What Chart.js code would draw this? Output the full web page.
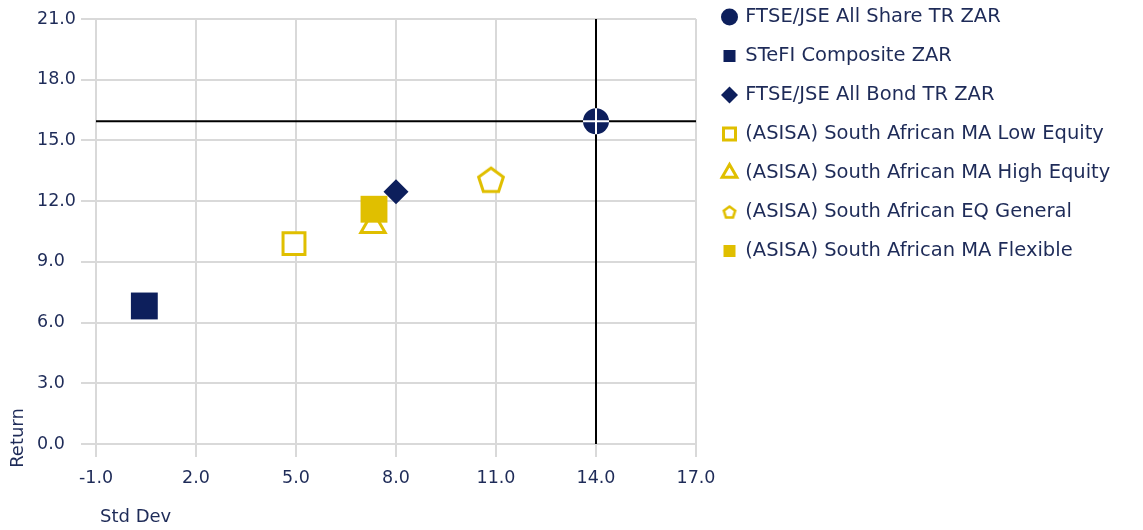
<!DOCTYPE html>
<html>
<head>
<meta charset="utf-8">
<script src="https://cdn.jsdelivr.net/npm/chart.js@4.4.1/dist/chart.umd.min.js"></script>
<style>
  html, body { margin: 0; padding: 0; background: #fff; }
  #wrap { position: relative; width: 1143px; height: 530px; }
</style>
</head>
<body>
<div id="wrap"><canvas id="riskChart"></canvas></div>
<script>
// series (std dev vs return)
const seriesNames = [
    'FTSE/JSE All Share TR ZAR',
    'STeFI Composite ZAR',
    'FTSE/JSE All Bond TR ZAR',
    '(ASISA) South African MA Low Equity',
    '(ASISA) South African MA High Equity',
    '(ASISA) South African EQ General',
    '(ASISA) South African MA Flexible'
];
const stdDev = [14.0, 0.45, 8.0, 4.94, 7.31, 10.85, 7.34];
const returns = [15.95, 6.82, 12.47, 9.9, 10.8, 13.06, 11.6];

const xTickValues = [-1, 2, 5, 8, 11, 14, 17];
const yTickValues = [0, 3, 6, 9, 12, 15, 18, 21];

const navy = '#0D1F5C';
const gold = '#E0BF00';
const textColor = '#1E2B58';
const gridColor = '#D9D9D9';

// pentagon marker (no built-in style for it)
function pentagon(size, radius, lineWidth) {
    const c = document.createElement('canvas');
    c.width = c.height = size;
    const g = c.getContext('2d');
    const cx = size / 2;
    const cy = size / 2 + (radius - radius * Math.cos(Math.PI / 5)) / 2;
    g.beginPath();
    for (let k = 0; k < 5; k++) {
        const a = -Math.PI / 2 + k * 2 * Math.PI / 5;
        const px = cx + radius * Math.cos(a);
        const py = cy + radius * Math.sin(a);
        if (k === 0) g.moveTo(px, py); else g.lineTo(px, py);
    }
    g.closePath();
    g.fillStyle = '#fff';
    g.fill();
    g.lineWidth = lineWidth;
    g.strokeStyle = gold;
    g.stroke();
    return c;
}
const pentBig = pentagon(34, 13, 3);
const pentSmall = pentagon(18, 6, 2.5);

const markerStyles = [
    { pointStyle: 'circle', radius: 13, fill: navy, stroke: navy, width: 0 },
    { pointStyle: 'rect', radius: 19, fill: navy, stroke: navy, width: 0 },
    { pointStyle: 'rectRot', radius: 12.5, fill: navy, stroke: navy, width: 0 },
    { pointStyle: 'rect', radius: 15.5, fill: '#fff', stroke: gold, width: 3 },
    { pointStyle: 'triangle', radius: 14, fill: '#fff', stroke: gold, width: 3 },
    { pointStyle: pentBig, radius: 13, fill: '#fff', stroke: gold, width: 3 },
    { pointStyle: 'rect', radius: 19, fill: gold, stroke: gold, width: 0 }
];

const datasets = seriesNames.map((name, i) => ({
    label: name,
    data: [{ x: stdDev[i], y: returns[i] }],
    pointStyle: markerStyles[i].pointStyle,
    pointRadius: markerStyles[i].radius,
    pointHoverRadius: markerStyles[i].radius,
    backgroundColor: markerStyles[i].fill,
    borderColor: markerStyles[i].stroke,
    borderWidth: markerStyles[i].width,
    pointBorderWidth: markerStyles[i].width,
    order: seriesNames.length - i
}));

// crosshair through the All Share point, across the whole plot
const cross = { x: stdDev[0], y: returns[0] };
datasets.push({
    label: '',
    data: [{ x: xTickValues[0], y: cross.y }, { x: xTickValues[xTickValues.length - 1], y: cross.y }],
    showLine: true, borderColor: '#000', borderWidth: 2, pointRadius: 0, order: 50
});
datasets.push({
    label: '',
    data: [{ x: cross.x, y: yTickValues[0] }, { x: cross.x, y: yTickValues[yTickValues.length - 1] }],
    showLine: true, borderColor: '#000', borderWidth: 2, pointRadius: 0, order: 50
});
// white cross on top of the circle marker
datasets.push({
    label: '',
    data: [cross],
    pointStyle: 'cross', pointRadius: 13, pointHoverRadius: 13,
    borderColor: '#fff', backgroundColor: '#fff', pointBorderWidth: 2, order: -1
});

// legend: fixed width and nudged up/right to sit like the original
const legendPlace = {
    id: 'legendPlace',
    beforeLayout(chart) {
        const lg = chart.legend;
        if (lg && !lg.fixedFit) {
            const fit = lg.fit;
            lg.fit = function () { fit.call(this); this.width = 447; };
            lg.fixedFit = true;
        }
    },
    afterLayout(chart) {
        const lg = chart.legend;
        lg.left += 8; lg.right += 8;
        lg.top -= 27.25; lg.bottom -= 27.25;
    }
};

const axisTitles = {
    id: 'axisTitles',
    afterDraw(chart) {
        const { ctx, chartArea } = chart;
        ctx.save();
        ctx.fillStyle = textColor;
        ctx.font = '18px "DejaVu Sans"';
        ctx.textBaseline = 'middle';
        ctx.textAlign = 'left';
        ctx.fillText('Std Dev', chartArea.left + 4, 517);
        ctx.translate(18, chartArea.bottom - 6);
        ctx.rotate(-Math.PI / 2);
        ctx.textAlign = 'center';
        ctx.fillText('Return', 0, 0);
        ctx.restore();
    }
};

Chart.defaults.font.family = '"DejaVu Sans", sans-serif';
Chart.defaults.color = textColor;

new Chart(document.getElementById('riskChart'), {
    type: 'scatter',
    data: { datasets },
    options: {
        responsive: true,
        maintainAspectRatio: false,
        animation: false,
        layout: { padding: { top: 15, right: 0, bottom: 0, left: 37 } },
        scales: {
            x: {
                type: 'linear',
                min: xTickValues[0],
                max: xTickValues[xTickValues.length - 1],
                afterBuildTicks: s => { s.ticks = xTickValues.map(v => ({ value: v })); },
                afterFit: s => { s.height = 86; },
                grid: { color: gridColor, lineWidth: 2, tickLength: 13 },
                border: { color: gridColor, width: 2 },
                ticks: { font: { size: 17.5 }, color: textColor, padding: 11, maxRotation: 0,
                    callback: v => v.toFixed(1) }
            },
            y: {
                type: 'linear',
                min: yTickValues[0],
                max: yTickValues[yTickValues.length - 1],
                afterBuildTicks: s => { s.ticks = yTickValues.map(v => ({ value: v })); },
                afterFit: s => { s.width = 59; },
                grid: { color: gridColor, lineWidth: 2, tickLength: 15 },
                border: { color: gridColor, width: 2 },
                ticks: { font: { size: 17.5 }, color: textColor, padding: 6, crossAlign: 'far',
                    callback: v => v.toFixed(1) }
            }
        },
        plugins: {
            legend: {
                position: 'right',
                align: 'start',
                labels: {
                    usePointStyle: true,
                    boxWidth: 12,
                    boxHeight: 12,
                    padding: 19.5,
                    color: textColor,
                    font: { size: 19.5 },
                    filter: item => item.datasetIndex < seriesNames.length,
                    sort: (a, b) => a.datasetIndex - b.datasetIndex,
                    generateLabels: chart => {
                        const items = Chart.defaults.plugins.legend.labels.generateLabels(chart);
                        items.forEach(it => { if (it.pointStyle === pentBig) it.pointStyle = pentSmall; });
                        return items;
                    }
                }
            },
            tooltip: { enabled: false }
        }
    },
    plugins: [legendPlace, axisTitles]
});
</script>
</body>
</html>
